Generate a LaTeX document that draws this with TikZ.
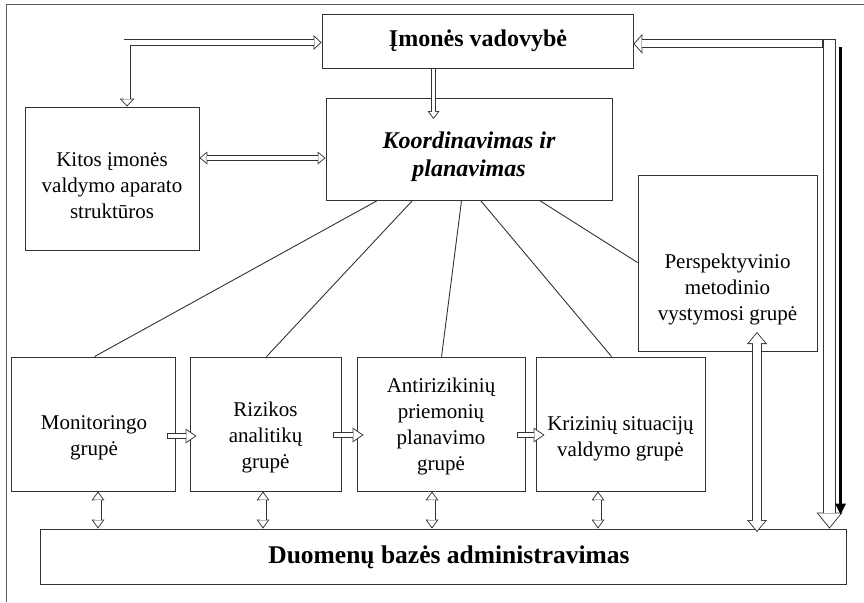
\documentclass[tikz,border=0pt]{standalone}
\usepackage{fontspec}
\setmainfont{Liberation Serif}
\usetikzlibrary{arrows.meta,calc}

\definecolor{linecol}{HTML}{333333}

% Hollow block arrow: a dark outline drawn as a wide stroke, emptied by a white stroke on top.
% #1 tail shortening of the white stroke, #2 arrow spec, #3 shaft width,
% #4 head width, #5 head length, #6 path
\newcommand\blockarrowcore[6]{%
  \pgfmathsetmacro\bat{0.9}%
  \pgfmathsetmacro\bas{#3}%
  \pgfmathsetmacro\bahw{#4}%
  \pgfmathsetmacro\bahl{#5}%
  \pgfmathsetmacro\baa{\bat*sqrt(1+(2*\bahl/\bahw)^2)}%
  \pgfmathsetmacro\bail{\bahl-\bat-\baa}%
  \pgfmathsetmacro\baiw{\bahw*\bail/\bahl}%
  \pgfmathsetmacro\bais{\bas-2*\bat}%
  \pgfmathsetmacro\bastart{#1}%
  \draw[draw=linecol, line width=\bas pt, line join=miter, #2,
        >={Triangle[length=\bahl pt,width=\bahw pt,line width=0pt]}] #6;
  \draw[draw=white, line width=\bais pt, line join=miter, #2,
        >={Triangle[length=\bail pt,width=\baiw pt,line width=0pt]},
        shorten >=\baa pt, shorten <=\bastart pt] #6;
}
% one head at the end, closed tail
\newcommand\blockarrow[4]{\blockarrowcore{0.9}{->}{#1}{#2}{#3}{#4}}
% heads at both ends
\newcommand\blockdarrow[4]{%
  \pgfmathsetmacro\bastartd{0.9*sqrt(1+(2*#3/#2)^2)}%
  \blockarrowcore{\bastartd}{<->}{#1}{#2}{#3}{#4}}

\tikzset{
  box/.style={draw=linecol, line width=0.9pt, rectangle, inner sep=0pt},
  txt/.style={align=center, font=\fontsize{21}{26}\selectfont, inner sep=0pt},
  link/.style={draw=linecol, line width=0.9pt},
}

\begin{document}
\begin{tikzpicture}[x=1pt, y=-1pt]
\useasboundingbox (0,0) rectangle (864,602);

% frame edges
\draw[draw=linecol!80, line width=1pt] (6,602) -- (6,4.3) -- (864,4.3);

% boxes
\node[box, minimum width=311pt, minimum height=54pt]  (top)   at (477.5,41)  {};
\node[box, minimum width=286pt, minimum height=102pt] (koord) at (469,149)   {};
\node[box, minimum width=174pt, minimum height=143pt] (kitos) at (112,178.5) {};
\node[box, minimum width=179pt, minimum height=176pt] (persp) at (727.5,263) {};
\node[box, minimum width=164pt, minimum height=134pt] (mon)   at (93,424)    {};
\node[box, minimum width=151pt, minimum height=134pt] (riz)   at (265.5,424) {};
\node[box, minimum width=168pt, minimum height=134pt] (anti)  at (441,424)   {};
\node[box, minimum width=169pt, minimum height=134pt] (kriz)  at (620.5,424) {};
\node[box, minimum width=806pt, minimum height=55pt]  (db)    at (443,556.5) {};

% texts
\node[txt, font=\fontsize{24}{29}\selectfont\bfseries] (top-t) at (478,41) {Įmonės vadovybė};
\node[txt, font=\fontsize{24}{28}\selectfont\bfseries\itshape] (koord-t) at (469,157) {Koordinavimas ir\\planavimas};
\node[txt] (kitos-t) at (112,186) {Kitos įmonės\\valdymo aparato\\struktūros};
\node[txt] (persp-t) at (727.5,289) {Perspektyvinio\\metodinio\\vystymosi grupė};
\node[txt] (mon-t)   at (94,438)    {Monitoringo\\grupė};
\node[txt] (riz-t)   at (265.5,437) {Rizikos\\analitikų\\grupė};
\node[txt] (anti-t)  at (441,426)   {Antirizikinių\\priemonių\\planavimo\\grupė};
\node[txt] (kriz-t)  at (620.5,439) {Krizinių situacijų\\valdymo grupė};
\node[txt, font=\fontsize{25.5}{30}\selectfont\bfseries] (db-t) at (449,557) {Duomenų bazės administravimas};

% subordination lines
\draw[link] ($(koord.south west)+(52,0)$)  -- ($(mon.north west)+(84,0)$);
\draw[link] ($(koord.south west)+(87,0)$)  -- ($(riz.north west)+(77,0)$);
\draw[link] ($(koord.south west)+(136,0)$) -- ($(anti.north west)+(85,0)$);
\draw[link] ($(koord.south west)+(155,0)$) -- ($(kriz.north west)+(76,0)$);
\draw[link] ($(koord.south west)+(214,0)$) -- ($(persp.north west)+(0,88)$);

% management links
\coordinate (lcorner) at (127,42.5);
\blockdarrow{7}{15}{8}{(top.west |- lcorner) -- (lcorner) -- (lcorner |- kitos.north)}
\coordinate (tk) at (433.5,119);
\blockarrow{5}{12}{8}{(tk |- top.south) -- (tk)}
\coordinate (kk) at (200,158);
\blockdarrow{6}{13}{8}{(kitos.east |- kk) -- (koord.west |- kk)}

% horizontal flow between groups
\blockarrow{6}{15}{11}{($(mon.east)+(-8,12)$) -- ($(riz.west)+(7,12)$)}
\blockarrow{6}{15}{11}{($(riz.east)+(-8,11)$) -- ($(anti.west)+(7,11)$)}
\blockarrow{6}{15}{11}{($(anti.east)+(-8,11)$) -- ($(kriz.west)+(9,11)$)}

% exchange with the database
\coordinate (dm) at ($(mon.south)+(5,0)$);
\coordinate (dr) at ($(riz.south)+(-2.5,0)$);
\coordinate (da) at ($(anti.south)+(-9,0)$);
\coordinate (dk) at ($(kriz.south)+(-22.5,0)$);
\blockdarrow{7}{13}{9}{(dm) -- (dm |- db.north)}
\blockdarrow{7}{13}{9}{(dr) -- (dr |- db.north)}
\blockdarrow{7}{13}{9}{(da) -- (da |- db.north)}
\blockdarrow{7}{13}{9}{(dk) -- (dk |- db.north)}
\coordinate (pt) at (757,332);
\coordinate (pb) at (757,532);
\blockdarrow{10}{20}{12}{(pt) -- (pb)}

% right-hand channel between management and the database
\coordinate (rh) at (823,43.8);
\coordinate (rv) at (829.5,39);
\blockarrow{9}{20}{9}{(rh) -- (top.east |- rh)}
\blockarrow{13}{26}{16}{(rv) -- (rv |- db.north)}
\coordinate (bk-start) at (840.5,47);
\coordinate (bk-end) at (840.5,514.5);
\draw[draw=black, line width=2.5pt, -{Triangle[length=11pt,width=11pt,line width=0pt]}] (bk-start) -- (bk-end);
\end{tikzpicture}
\end{document}
